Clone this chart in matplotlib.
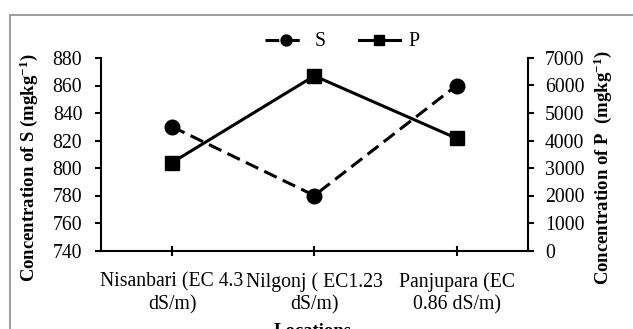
import matplotlib.pyplot as plt
from matplotlib.patches import Rectangle

# data
locations = ['Nisanbari (EC 4.3\ndS/m)', 'Nilgonj ( EC1.23\ndS/m)', 'Panjupara (EC\n0.86 dS/m)']
conc_s = [830, 780, 860]
conc_p = [3200, 6350, 4080]
s_ticks = [740, 760, 780, 800, 820, 840, 860, 880]
p_ticks = [0, 1000, 2000, 3000, 4000, 5000, 6000, 7000]

plt.rcParams['font.family'] = 'Liberation Serif'
plt.rcParams['font.size'] = 14.2
plt.rcParams['mathtext.default'] = 'regular'

fig = plt.figure(figsize=(6.33, 3.29), dpi=100)
W, H = 633, 329
ax = fig.add_axes([101 / W, (H - 250.5) / H, (527.7 - 101) / W, (250.5 - 58) / H])
ax2 = ax.twinx()

x = list(range(len(locations)))
l1, = ax.plot(x, conc_s, color='black', lw=2.2, ls=(0, (4.5, 2.2)), marker='o', ms=10.5, label='S')
l2, = ax2.plot(x, conc_p, color='black', lw=2.2, marker='s', ms=10.5, label='P')

ax.set_xlim(-0.5, 2.5)
ax.set_ylim(740, 880)
ax.set_yticks(s_ticks)
ax2.set_ylim(0, 7000)
ax2.set_yticks(p_ticks)
ax.set_xticks(x)
ax.set_xticklabels(locations, linespacing=1.25)

for a in (ax, ax2):
    a.spines['top'].set_visible(False)
    for s in a.spines.values():
        s.set_linewidth(1.5)
ax.spines['right'].set_visible(False)
ax2.spines['left'].set_visible(False)
ax2.spines['bottom'].set_visible(False)

ax.tick_params(axis='y', direction='out', length=4.5, width=1.5, pad=9)
ax.tick_params(axis='x', direction='inout', length=7, width=1.5, pad=12)
ax2.tick_params(axis='y', direction='out', length=4.5, width=1.5, pad=8)

ax.set_ylabel('Concentration of S (mgkg$^{-1}$)', fontweight='bold', fontsize=13.5)
ax2.set_ylabel('Concentration of P  (mgkg$^{-1}$)', fontweight='bold', fontsize=13.5)
ax.yaxis.set_label_coords(-0.143, 0.43)
ax2.yaxis.set_label_coords(1.1495, 0.43)
fig.text(313 / W, (H - 336) / H, 'Locations', ha='center', va='baseline',
         fontweight='bold', fontsize=13.5)

fig.legend(handles=[l1, l2], loc='center', bbox_to_anchor=(342 / W, (H - 42) / H),
           ncol=2, frameon=False, handlelength=2.1, columnspacing=1.7,
           handletextpad=0.4, markerscale=0.75)

# gray frame around the chart area
fig.patches.append(Rectangle((10 / W, -0.1), 1.2, (H - 15) / H + 0.1,
                             transform=fig.transFigure, fill=False,
                             edgecolor='#8c8c8c', lw=1.2))

plt.savefig('out.png', dpi=100)
